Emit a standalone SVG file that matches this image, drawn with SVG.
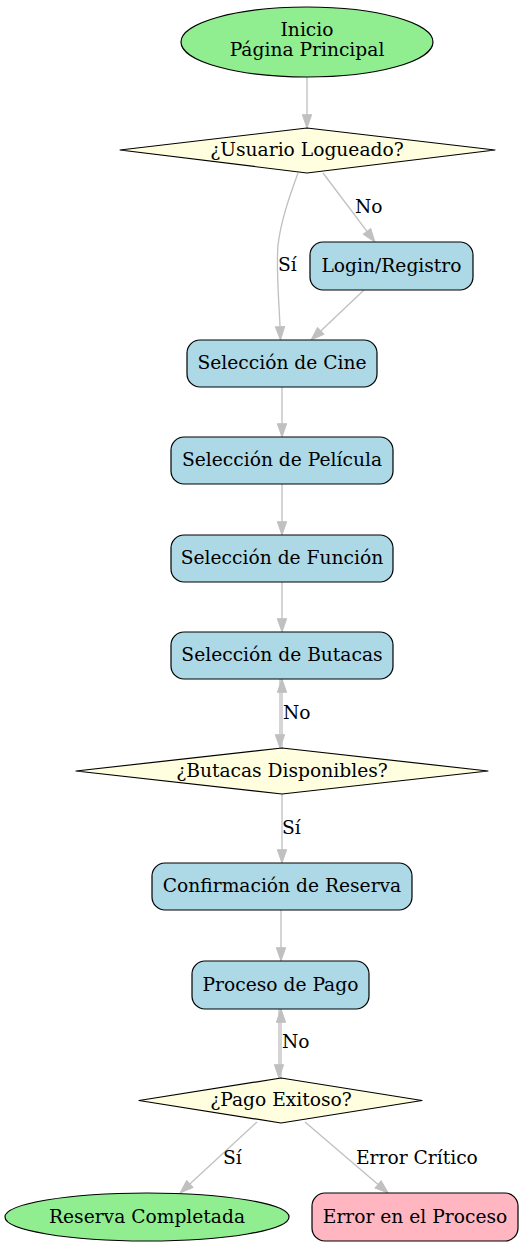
<svg xmlns="http://www.w3.org/2000/svg" width="525" height="1246" viewBox="0 0 525 1246">
<style>
text{font-family:"DejaVu Serif",serif;font-size:18.67px;fill:#000}
.n text{text-anchor:middle}
.proc{fill:#add8e6;stroke:#000;stroke-width:1.2}
.dec{fill:#ffffe0;stroke:#000;stroke-width:1.2;stroke-linejoin:round}
.term{fill:#90ee90;stroke:#000;stroke-width:1.2}
.err{fill:#ffb6c1;stroke:#000;stroke-width:1.2}
.e path{fill:none;stroke:#c0c0c0;stroke-width:1.33;marker-end:url(#ah)}
</style>
<defs>
<marker id="ah" markerUnits="userSpaceOnUse" markerWidth="14" markerHeight="10" refX="0" refY="4.65" orient="auto" overflow="visible">
<path d="M0,0 L13.3,4.65 L0,9.3 z" fill="#c0c0c0" stroke="#c0c0c0" stroke-width="1"/>
</marker>
</defs>
<rect width="525" height="1246" fill="#fff"/>
<g id="edges" class="e">
<path d="M307,77 L307,114.7"/>
<path d="M298,173 C290,195 281,220 278,245 C276,270 279,300 280,326.7"/>
<path d="M323,173 L367,231.4"/>
<path d="M364,290 L320.7,330.9"/>
<path d="M282,387 L282,423.7"/>
<path d="M282,484 L282,521.7"/>
<path d="M282,582 L282,618.7"/>
<path d="M280,679 L280,734.7"/>
<path d="M282,748 L282,692.3"/>
<path d="M282,794 L282,849.7"/>
<path d="M281,910 L281,947.7"/>
<path d="M279,1009 L279,1064.7"/>
<path d="M281,1078 L281,1022.3"/>
<path d="M257,1122 L189.8,1184"/>
<path d="M305,1122 L378.1,1184.4"/>
<text x="355" y="213">No</text>
<text x="278" y="271">Sí</text>
<text x="283" y="719">No</text>
<text x="282" y="834">Sí</text>
<text x="282" y="1048">No</text>
<text x="223" y="1164">Sí</text>
<text x="356" y="1164">Error Crítico</text>
</g>
<g id="inicio" class="n"><ellipse class="term" cx="307" cy="42" rx="126" ry="35"/><text x="307" y="36">Inicio</text><text x="307" y="56">Página Principal</text></g>
<g id="logueado" class="n"><polygon class="dec" points="307,128 495,150 307,173 120,150"/><text x="307" y="156">¿Usuario Logueado?</text></g>
<g id="login" class="n"><rect class="proc" x="310" y="242" width="163" height="48" rx="13"/><text x="391.5" y="272">Login/Registro</text></g>
<g id="cine" class="n"><rect class="proc" x="187" y="340" width="190" height="47" rx="13"/><text x="282" y="369">Selección de Cine</text></g>
<g id="pelicula" class="n"><rect class="proc" x="171" y="437" width="222" height="47" rx="13"/><text x="282" y="466">Selección de Película</text></g>
<g id="funcion" class="n"><rect class="proc" x="171" y="535" width="222" height="47" rx="13"/><text x="282" y="564">Selección de Función</text></g>
<g id="butacas" class="n"><rect class="proc" x="171" y="632" width="222" height="47" rx="13"/><text x="282" y="661">Selección de Butacas</text></g>
<g id="disponibles" class="n"><polygon class="dec" points="282,748 488,771 282,794 76,771"/><text x="282" y="777">¿Butacas Disponibles?</text></g>
<g id="confirmacion" class="n"><rect class="proc" x="152" y="863" width="260" height="47" rx="13"/><text x="282" y="892">Confirmación de Reserva</text></g>
<g id="pago" class="n"><rect class="proc" x="192" y="961" width="177" height="48" rx="13"/><text x="280.5" y="991">Proceso de Pago</text></g>
<g id="exitoso" class="n"><polygon class="dec" points="281,1078 422,1100.5 281,1123 139,1100.5"/><text x="281" y="1106">¿Pago Exitoso?</text></g>
<g id="completada" class="n"><ellipse class="term" cx="147" cy="1217" rx="142" ry="24"/><text x="147" y="1223">Reserva Completada</text></g>
<g id="error" class="n"><rect class="err" x="312" y="1193" width="206" height="48" rx="13"/><text x="415" y="1223">Error en el Proceso</text></g>
</svg>
